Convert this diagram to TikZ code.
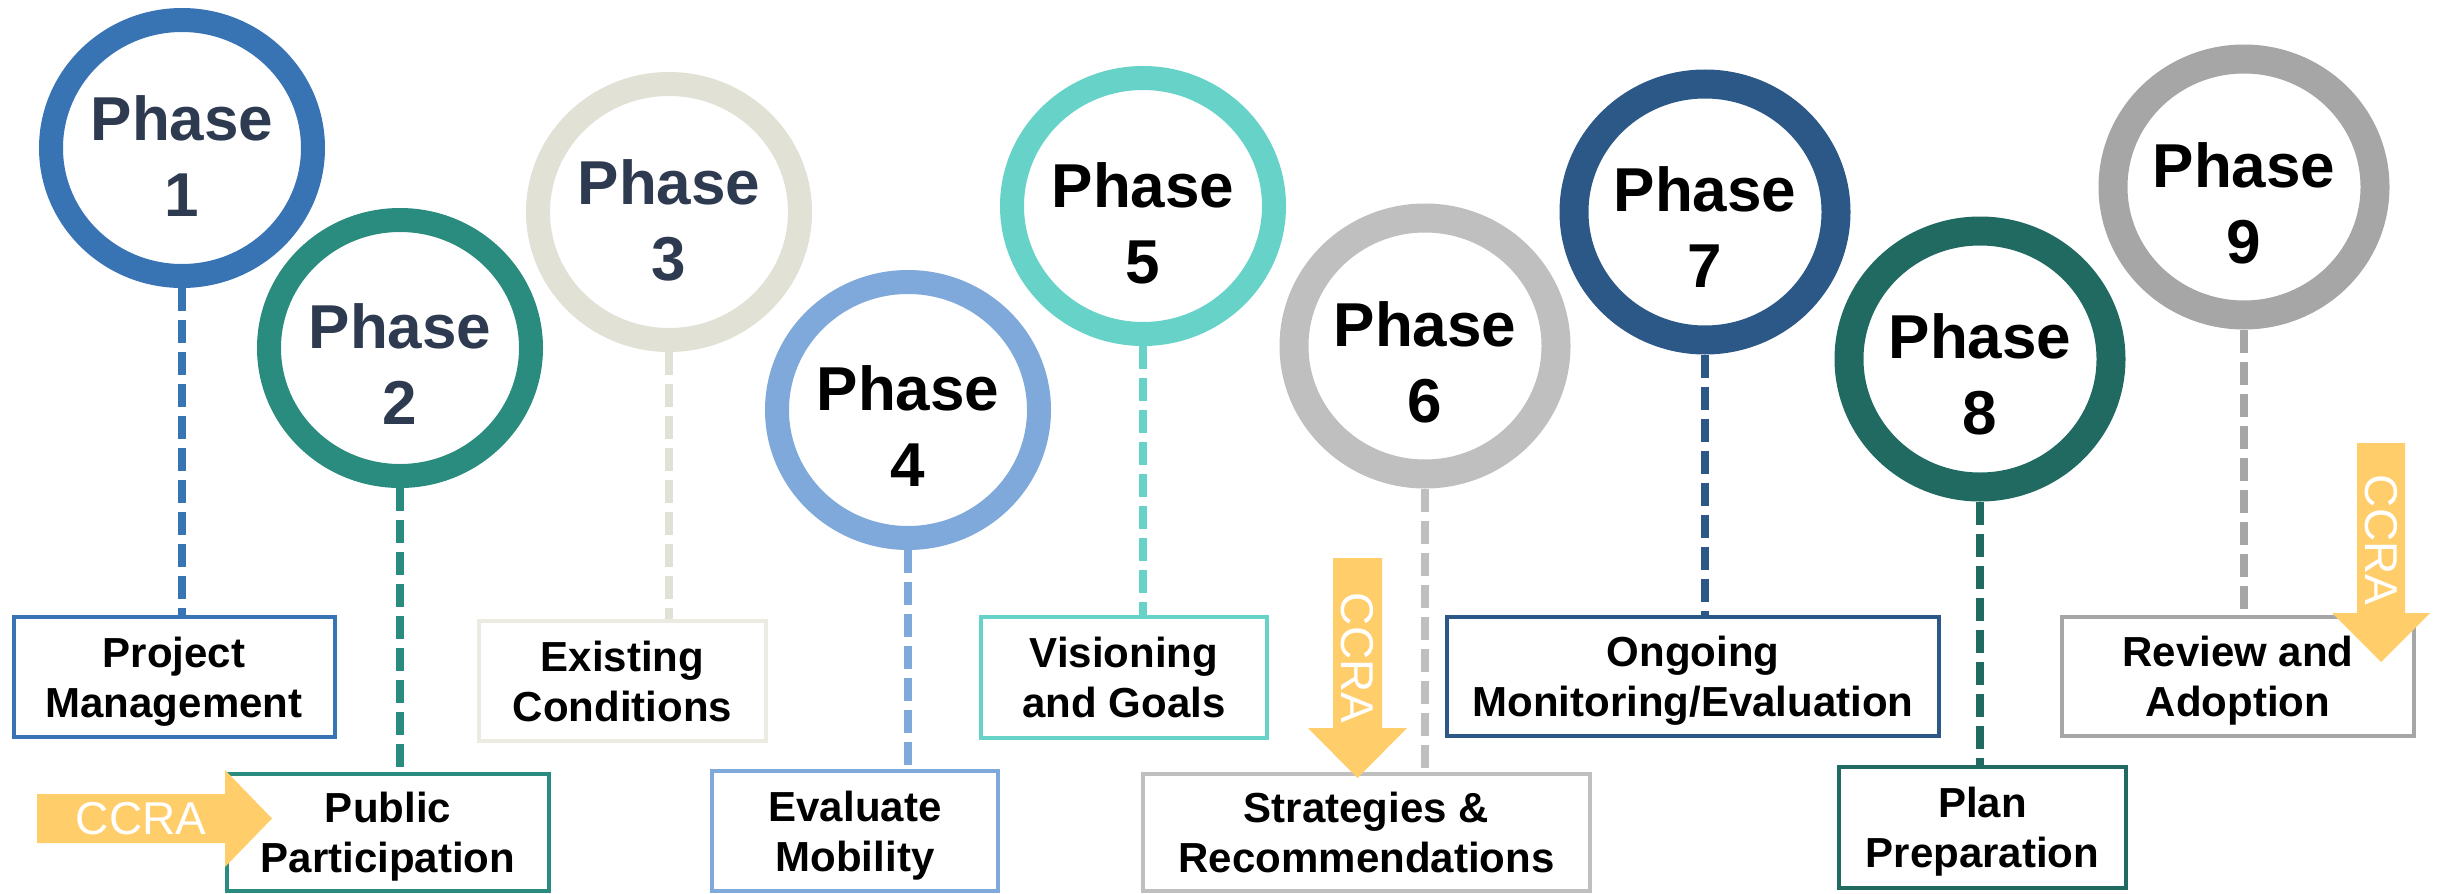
\documentclass[tikz,border=0pt]{standalone}
\usepackage{fontspec}
\setmainfont{Liberation Sans}
\usetikzlibrary{shapes.geometric}
\definecolor{cA}{RGB}{56,115,180}
\definecolor{cB}{RGB}{42,140,127}
\definecolor{cC}{RGB}{225,225,214}
\definecolor{cCb}{RGB}{236,235,226}
\definecolor{cD}{RGB}{127,169,218}
\definecolor{cE}{RGB}{102,210,200}
\definecolor{cF}{RGB}{191,191,191}
\definecolor{cG}{RGB}{44,88,136}
\definecolor{cH}{RGB}{32,106,98}
\definecolor{cI}{RGB}{166,166,166}
\definecolor{ccra}{RGB}{255,205,105}
\definecolor{navy}{RGB}{45,58,79}
\begin{document}
\begin{tikzpicture}[x=1pt,y=-1pt,
  ring/.style={draw, ellipse, line width=24pt, minimum width=262pt, minimum height=256pt, inner sep=0pt},
  ringw/.style={ring, line width=29pt},
  ptxt/.style={font=\fontsize{62}{76}\selectfont\bfseries, align=center, inner sep=0pt},
  boxn/.style={draw, line width=4pt, rectangle, inner sep=0pt, align=center, font=\fontsize{42}{50}\selectfont\bfseries, text depth=0pt},
  dl/.style={line width=8pt, dash pattern=on 23pt off 9pt},
  ccratxt/.style={text=white, font=\fontsize{46}{46}\selectfont, inner sep=0pt}]
\useasboundingbox (0,0) rectangle (2445,894);
% circles
\node[ring, draw=cA] (c1) at (182,148) {};
\node[ring, draw=cB] (c2) at (400,348) {};
\node[ring, draw=cC] (c3) at (669,212) {};
\node[ring, draw=cD] (c4) at (908,410) {};
\node[ring, draw=cE] (c5) at (1143,206) {};
\node[ringw, draw=cF] (c6) at (1425,346) {};
\node[ringw, draw=cG] (c7) at (1705,212) {};
\node[ringw, draw=cH] (c8) at (1980,359) {};
\node[ringw, draw=cI] (c9) at (2244,187) {};
% phase texts
\node[ptxt, text=navy] (p1) at ([yshift=-8pt]c1.center) {Phase\\1};
\node[ptxt, text=navy] (p2) at ([yshift=-16pt]c2.center) {Phase\\2};
\node[ptxt, text=navy] (p3) at ([yshift=-8pt]c3.center) {Phase\\3};
\node[ptxt] (p4) at ([yshift=-16pt]c4.center) {Phase\\4};
\node[ptxt] (p5) at ([yshift=-17pt]c5.center) {Phase\\5};
\node[ptxt] (p6) at ([yshift=-16pt]c6.center) {Phase\\6};
\node[ptxt] (p7) at ([yshift=-15pt]c7.center) {Phase\\7};
\node[ptxt] (p8) at ([yshift=-15pt]c8.center) {Phase\\8};
\node[ptxt] (p9) at ([yshift=-16pt]c9.center) {Phase\\9};
% boxes
\node[boxn, draw=cA, minimum width=321pt, minimum height=120pt] (b1) at (174,677) {Project\\Management};
\node[boxn, draw=cB, minimum width=322pt, minimum height=117pt] (b2) at (388,832) {Public\\Participation};
\node[boxn, draw=cCb, minimum width=287pt, minimum height=120pt] (b3) at (622.5,681) {Existing\\Conditions};
\node[boxn, draw=cD, minimum width=286pt, minimum height=120pt] (b4) at (855,831) {Evaluate\\Mobility};
\node[boxn, draw=cE, minimum width=286pt, minimum height=121pt] (b5) at (1124,677.5) {Visioning\\and Goals};
\node[boxn, draw=cF, minimum width=447pt, minimum height=117pt] (b6) at (1366.5,832) {Strategies \&\\Recommendations};
\node[boxn, draw=cG, minimum width=492pt, minimum height=119pt] (b7) at (1693,676.5) {Ongoing\\Monitoring/Evaluation};
\node[boxn, draw=cH, minimum width=287pt, minimum height=121pt] (b8) at (1982.5,827.5) {Plan\\Preparation};
\node[boxn, draw=cI, minimum width=352pt, minimum height=119pt] (b9) at (2238,676.5) {Review and\\Adoption};
% dashed connectors
\draw[dl, cA] (c1.south) -- (c1.south |- b1.north);
\draw[dl, cB] (c2.south) -- (c2.south |- b2.north);
\draw[dl, cC] (c3.south) -- (c3.south |- b3.north);
\draw[dl, cD] (c4.south) -- (c4.south |- b4.north);
\draw[dl, cE] (c5.south) -- (c5.south |- b5.north);
\draw[dl, cF] (c6.south) -- (c6.south |- b6.north);
\draw[dl, cG] (c7.south) -- (c7.south |- b7.north);
\draw[dl, cH] (c8.south) -- (c8.south |- b8.north);
\draw[dl, cI] (c9.south) -- (c9.south |- b9.north);
% CCRA arrows
\fill[ccra] (37,794) -- (225,794) -- (225,770) -- (272,818.5) -- (225,867) -- (225,843) -- (37,843) -- cycle;
\node[ccratxt] (a1) at (141,819) {CCRA};
\fill[ccra] (1333,558) -- (1382,558) -- (1382,728) -- (1407,728) -- (1357.5,778) -- (1308,728) -- (1333,728) -- cycle;
\node[ccratxt, rotate=-90] (a2) at (1357.5,658) {CCRA};
\fill[ccra] (2357,443) -- (2405,443) -- (2405,613) -- (2430,613) -- (2381,662) -- (2332,613) -- (2357,613) -- cycle;
\node[ccratxt, rotate=-90] (a3) at (2381,540) {CCRA};
\end{tikzpicture}
\end{document}
